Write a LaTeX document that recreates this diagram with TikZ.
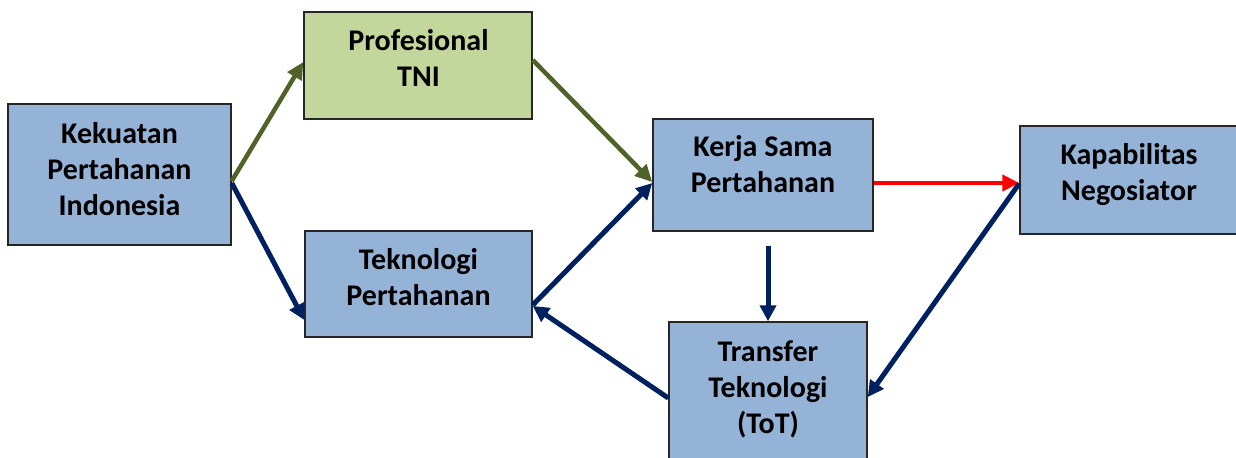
\documentclass[tikz,border=0pt]{standalone}
\usepackage{fontspec}
\setmainfont{Carlito}
\usepackage{tikz}
\usetikzlibrary{calc,arrows.meta}

\definecolor{boxblue}{HTML}{95B3D7}
\definecolor{boxgreen}{HTML}{C3D69B}
\definecolor{arrowgreen}{HTML}{4F6228}
\definecolor{arrownavy}{HTML}{002060}

\begin{document}
\begin{tikzpicture}[x=0.5pt,y=-0.5pt]
% Diagram style
\tikzset{
    box/.style={draw=black!85, line width=0.75pt, rectangle, inner sep=0pt, fill=boxblue},
    txt/.style={align=center, inner sep=0pt, font=\bfseries\fontsize{15}{18}\selectfont},
    greenarrow/.style={draw=arrowgreen, line width=2.25pt, -{Triangle[length=8.5pt,width=8pt]}},
    navyarrow/.style={draw=arrownavy, line width=2.5pt, -{Triangle[length=8pt,width=8pt]}},
    redarrow/.style={draw=red, line width=2.25pt, -{Triangle[length=8.5pt,width=8pt]}}
}
\useasboundingbox (0,0) rectangle (1236,457);
\clip (0,0) rectangle (1236,457);
% Boxes
\node[box, minimum width=111.5pt, minimum height=70.5pt] (KPI) at (119.5,174.5){};
\node[box, fill=boxgreen, minimum width=114pt, minimum height=53.5pt] (PTNI) at (418,65.5){};
\node[box, minimum width=113.5pt, minimum height=53pt] (TekP) at (418.5,284){};
\node[box, minimum width=110pt, minimum height=56pt] (KSP) at (763,175){};
\node[box, minimum width=109pt, minimum height=54pt] (KapN) at (1129,180){};
\node[box, minimum width=99pt, minimum height=75pt] (ToT) at (768,397){};
% Texts
\node[txt] (KPIt) at (119.5,169){Kekuatan\\Pertahanan\\Indonesia};
\node[txt] (PTNIt) at (418.5,58){Profesional\\TNI};
\node[txt] (TekPt) at (418.5,277.5){Teknologi\\Pertahanan};
\node[txt] (KSPt) at (763,164){Kerja Sama\\Pertahanan};
\node[txt] (KapNt) at (1129,175){Kapabilitas\\Negosiator};
\node[txt] (ToTt) at (768,389.5){Transfer\\Teknologi\\(ToT)};
% Connections
\draw[greenarrow] ($(KPI.east)+(0,6.5)$) -- ($(PTNI.west)+(0,-3.5)$);
\draw[navyarrow] ($(KPI.east)+(0,8.5)$) -- ($(TekP.west)+(0,36)$);
\draw[greenarrow] ($(PTNI.east)+(0,-5.5)$) -- ($(KSP.west)+(0,7)$);
\draw[navyarrow] ($(TekP.east)+(0,21)$) -- ($(KSP.west)+(0,8)$);
\draw[navyarrow] ($(ToT.west)+(0,1)$) -- ($(TekP.east)+(0,22)$);
\draw[navyarrow] ($(KSP.south)+(5,14)$) -- (ToT.north);
\draw[redarrow] ($(KSP.east)+(0,8)$) -- ($(KapN.west)+(0,3)$);
\draw[navyarrow] ($(KapN.west)+(0,3.5)$) -- (ToT.east);
\end{tikzpicture}
\end{document}
